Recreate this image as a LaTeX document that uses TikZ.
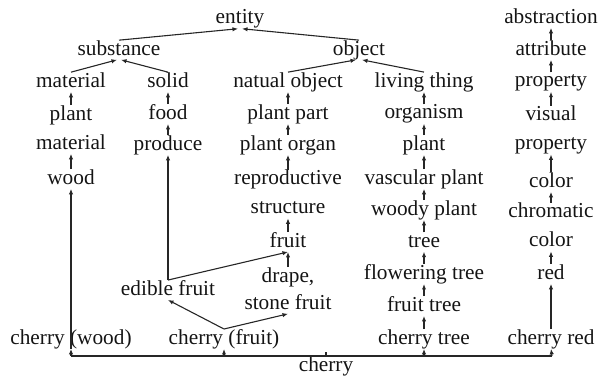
\documentclass[tikz,border=0pt]{standalone}
\usepackage{fontspec}
\setmainfont{Liberation Serif}
\usetikzlibrary{arrows.meta}
\newcommand\tst{\rule{0pt}{14.5pt}}
\newcommand\bst{\rule[-4.5pt]{0pt}{4.5pt}}
\begin{document}
\begin{tikzpicture}[x=1pt,y=-1pt,
  lbl/.style={inner sep=0pt, align=center, text=black!92,
    font=\fontsize{21.3}{29}\selectfont},
  arr/.style={-{Latex[length=5.5pt,width=4.4pt]}, line width=1.1pt, draw=black!85},
  ln/.style={line width=1.1pt, draw=black!85}]
\useasboundingbox (0,0) rectangle (600,377);
% nodes
\node[lbl] (entity) at (240,19) {\tst entity\bst};
\node[lbl] (abstraction) at (551,18) {\tst abstraction\bst};
\node[lbl] (substance) at (119,50) {\tst substance\bst};
\node[lbl] (object) at (359,50) {\tst object\bst};
\node[lbl] (attribute) at (551,50) {\tst attribute\bst};
\node[lbl] (material) at (71,82) {\tst material\bst};
\node[lbl] (solid) at (168,82) {\tst solid\bst};
\node[lbl] (natobj) at (288,82) {\tst natual object\bst};
\node[lbl] (living) at (424,82) {\tst living thing\bst};
\node[lbl] (property) at (551,82) {\tst property\bst};
\node[lbl] (plantmat) at (71,129.5) {\tst plant\\material\bst};
\node[lbl] (food) at (168,114) {\tst food\bst};
\node[lbl] (plantpart) at (288,114) {\tst plant part\bst};
\node[lbl] (organism) at (424,114) {\tst organism\bst};
\node[lbl] (visprop) at (551,130) {\tst visual\\property\bst};
\node[lbl] (wood) at (71,179) {\tst wood\bst};
\node[lbl] (produce) at (168,145) {\tst produce\bst};
\node[lbl] (plantorgan) at (288,145) {\tst plant organ\bst};
\node[lbl] (plant) at (424,145) {\tst plant\bst};
\node[lbl] (repstruct) at (288,194) {\tst reproductive\\structure\bst};
\node[lbl] (vascular) at (424,179) {\tst vascular plant\bst};
\node[lbl] (color) at (551,182) {\tst color\bst};
\node[lbl] (woody) at (424,210) {\tst woody plant\bst};
\node[lbl] (chromcol) at (551,227) {\tst chromatic\\color\bst};
\node[lbl] (fruit) at (288,242) {\tst fruit\bst};
\node[lbl] (tree) at (424,242) {\tst tree\bst};
\node[lbl] (drape) at (288,290.5) {\tst drape,\\[-2pt]stone fruit\bst};
\node[lbl] (flowering) at (424,274) {\tst flowering tree\bst};
\node[lbl] (red) at (551,274) {\tst red\bst};
\node[lbl] (edible) at (168,290) {\tst edible fruit\bst};
\node[lbl] (fruittree) at (424,306) {\tst fruit tree\bst};
\node[lbl] (cw) at (71,339) {\tst cherry (wood)\bst};
\node[lbl] (cf) at (224,339) {\tst cherry (fruit)\bst};
\node[lbl] (ct) at (424,339) {\tst cherry tree\bst};
\node[lbl] (cr) at (551,339) {\tst cherry red\bst};
\node[lbl] (cherry) at (326,366) {\tst cherry\bst};
% bottom bar
\coordinate (b1) at (71,356);
\coordinate (b2) at (224,356);
\coordinate (b3) at (424,356);
\coordinate (b4) at (552,356);
\coordinate (bc) at (326,356);
\coordinate (bt) at (326,352);
\draw[ln] (b1) -- (b4);
\draw[ln] (bc) -- (bt);
\draw[arr] (b1) -- (cw.south);
\draw[arr] (cw.south) -- (wood.south);
\draw[arr] (b2) -- (cf.south);
\draw[arr] (b3) -- (ct.south);
\draw[arr] (b4) -- (cr.south);
% left column
\draw[arr] (wood.north) -- (plantmat.south);
\draw[arr] (plantmat.north) -- (material.south);
\draw[arr] (material.north) -- ([xshift=-2pt]substance.south);
\draw[arr] (solid.north) -- ([xshift=2pt]substance.south);
\draw[arr] (substance.north) -- ([xshift=-2pt]entity.south);
\draw[arr] (object.north) -- ([xshift=2pt]entity.south);
% solid column
\draw[arr] (produce.north) -- (food.south);
\draw[arr] (food.north) -- (solid.south);
\draw[arr] (edible.north) -- (produce.south);
\draw[arr] (edible.north) -- (fruit.south);
\draw[arr] (cf.north) -- (edible.south);
\draw[arr] (cf.north) -- (drape.south);
% middle column
\draw[arr] (drape.north) -- (fruit.south);
\draw[arr] (fruit.north) -- (repstruct.south);
\draw[arr] (repstruct.north) -- (plantorgan.south);
\draw[arr] (plantorgan.north) -- (plantpart.south);
\draw[arr] (plantpart.north) -- (natobj.south);
\draw[arr] (natobj.north) -- ([xshift=-3pt]object.south);
\draw[arr] (living.north) -- ([xshift=3pt]object.south);
% living column
\draw[arr] (ct.north) -- (fruittree.south);
\draw[arr] (fruittree.north) -- (flowering.south);
\draw[arr] (flowering.north) -- (tree.south);
\draw[arr] (tree.north) -- (woody.south);
\draw[arr] (woody.north) -- (vascular.south);
\draw[arr] (vascular.north) -- (plant.south);
\draw[arr] (plant.north) -- (organism.south);
\draw[arr] (organism.north) -- (living.south);
% right column
\draw[arr] (cr.north) -- (red.south);
\draw[arr] (red.north) -- (chromcol.south);
\draw[arr] (chromcol.north) -- (color.south);
\draw[arr] (color.north) -- (visprop.south);
\draw[arr] (visprop.north) -- (property.south);
\draw[arr] (property.north) -- (attribute.south);
\draw[arr] (attribute.north) -- (abstraction.south);
\end{tikzpicture}
\end{document}
